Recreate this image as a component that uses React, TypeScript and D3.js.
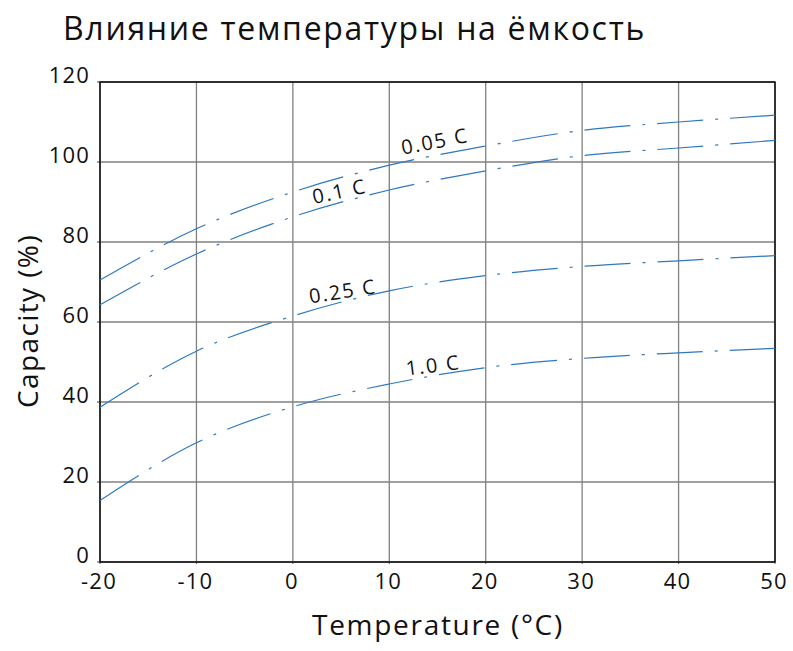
import { useEffect, useRef } from 'react';
import * as d3 from 'd3';

const temps = [-20, -10, 0, 10, 20, 30, 40, 50];
const cap005 = [70.5, 83.3, 92.5, 99.2, 104, 107.9, 110, 111.7];
const cap01 = [64.3, 77, 86.3, 93, 97.8, 101.6, 103.5, 105.4];
const cap025 = [38.7, 52.7, 61.5, 67.8, 71.6, 73.9, 75.3, 76.6];
const cap10 = [15.4, 29.8, 38.8, 44.5, 48.6, 50.9, 52.3, 53.4];

const seriesNames = ['0.05 C', '0.1 C', '0.25 C', '1.0 C'];
// label anchor (temperature, capacity) and rotation for each curve
const labelTemps = [11.4, 2.2, 1.8, 11.8];
const labelCaps = [101.8, 89.5, 64.6, 46.6];
const labelAngles = [-11, -12, -9, -7];

const xTicks = [-20, -10, 0, 10, 20, 30, 40, 50];
const yTicks = [0, 20, 40, 60, 80, 100, 120];

const W = 793;
const H = 651;
const FONT = '"Open Sans", "Noto Sans", sans-serif';

export default function App() {
  const svgRef = useRef<SVGSVGElement>(null);

  useEffect(() => {
    if (!svgRef.current) return;
    const svg = d3.select(svgRef.current);
    svg.selectAll('*').remove();

    const left = 100;
    const right = 775;
    const top = 82;
    const bottom = 562;

    const x = d3.scaleLinear().domain([-20, 50]).range([left, right]);
    const y = d3.scaleLinear().domain([0, 120]).range([bottom, top]);

    // Title
    svg.append('text')
      .attr('x', 63)
      .attr('y', 40)
      .attr('font-family', FONT)
      .attr('font-size', 32)
      .attr('letter-spacing', 1.7)
      .attr('fill', '#111')
      .text('Влияние температуры на ёмкость');

    // Grid
    const grid = svg.append('g');
    grid.selectAll('line.v')
      .data(xTicks)
      .join('line')
      .attr('x1', (d) => x(d))
      .attr('x2', (d) => x(d))
      .attr('y1', top)
      .attr('y2', bottom + 2)
      .attr('stroke', '#808080')
      .attr('stroke-width', 1.3);
    grid.selectAll('line.h')
      .data(yTicks)
      .join('line')
      .attr('x1', left - 3)
      .attr('x2', right)
      .attr('y1', (d) => y(d))
      .attr('y2', (d) => y(d))
      .attr('stroke', '#808080')
      .attr('stroke-width', 1.3);

    // Frame
    svg.append('rect')
      .attr('x', left)
      .attr('y', top)
      .attr('width', right - left)
      .attr('height', bottom - top)
      .attr('fill', 'none')
      .attr('stroke', '#000')
      .attr('stroke-width', 1.4);

    // Tick labels
    svg.append('g')
      .selectAll('text')
      .data(yTicks)
      .join('text')
      .attr('x', 90)
      .attr('y', (d) => y(d) + 1)
      .attr('text-anchor', 'end')
      .attr('font-family', FONT)
      .attr('font-size', 22)
      .attr('letter-spacing', 1.2)
      .attr('fill', '#111')
      .text((d) => String(d));

    svg.append('g')
      .selectAll('text')
      .data(xTicks)
      .join('text')
      .attr('x', (d) => x(d) - 1)
      .attr('y', 589)
      .attr('text-anchor', 'middle')
      .attr('font-family', FONT)
      .attr('font-size', 22)
      .attr('letter-spacing', 1.2)
      .attr('fill', '#111')
      .text((d) => String(d));

    // Axis titles
    svg.append('text')
      .attr('x', 438)
      .attr('y', 635)
      .attr('text-anchor', 'middle')
      .attr('font-family', FONT)
      .attr('font-size', 28)
      .attr('letter-spacing', 1.7)
      .attr('fill', '#111')
      .text('Temperature (°C)');

    svg.append('text')
      .attr('transform', `translate(38, 321) rotate(-90)`)
      .attr('text-anchor', 'middle')
      .attr('font-family', FONT)
      .attr('font-size', 28)
      .attr('letter-spacing', 1.4)
      .attr('fill', '#111')
      .text('Capacity (%)');

    // Curves
    const allSeries = [cap005, cap01, cap025, cap10];
    const line = d3.line<number>()
      .x((_, i) => x(temps[i]))
      .y((d) => y(d))
      .curve(d3.curveMonotoneX);

    svg.append('g')
      .selectAll('path')
      .data(allSeries)
      .join('path')
      .attr('d', (d) => line(d) || '')
      .attr('fill', 'none')
      .attr('stroke', '#2f78c0')
      .attr('stroke-width', 1.2)
      .attr('stroke-dasharray', '46 12 3 12');

    // Curve labels
    svg.append('g')
      .selectAll('text')
      .data(seriesNames)
      .join('text')
      .attr('transform', (_, i) =>
        `translate(${x(labelTemps[i])}, ${y(labelCaps[i])}) rotate(${labelAngles[i]})`)
      .attr('font-family', FONT)
      .attr('font-size', 20)
      .attr('letter-spacing', 1.8)
      .attr('fill', '#111')
      .text((d) => d);
  }, []);

  return (
    <svg
      ref={svgRef}
      width={W}
      height={H}
      viewBox={`0 0 ${W} ${H}`}
      style={{ position: 'absolute', left: 0, top: 0, background: '#fff' }}
    />
  );
}
